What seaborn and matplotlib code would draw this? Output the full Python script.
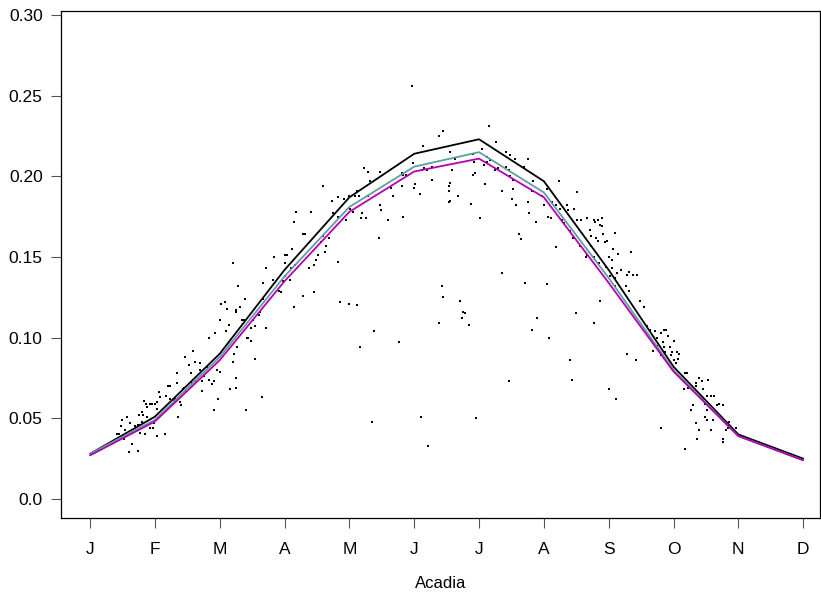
import matplotlib
matplotlib.use("Agg")
import matplotlib.pyplot as plt
import seaborn as sns
import pandas as pd

sns.set_style("white")
plt.rcParams['font.family'] = ['Liberation Sans', 'DejaVu Sans']
plt.rcParams['text.color'] = 'black'
plt.rcParams['axes.labelcolor'] = 'black'
plt.rcParams['xtick.color'] = 'black'
plt.rcParams['ytick.color'] = 'black'

month_labels = ["J", "F", "M", "A", "M", "J", "J", "A", "S", "O", "N", "D"]
month_pos = [1, 2, 3, 4, 5, 6, 7, 8, 9, 10, 11, 12]

line_black = [0.028, 0.051, 0.090, 0.142, 0.187, 0.214, 0.223, 0.197, 0.142, 0.082, 0.040, 0.025]
line_teal = [0.028, 0.049, 0.088, 0.138, 0.181, 0.206, 0.215, 0.190, 0.137, 0.080, 0.039, 0.024]
line_magenta = [0.027, 0.048, 0.086, 0.135, 0.178, 0.203, 0.211, 0.187, 0.134, 0.079, 0.039, 0.024]

# daily observations: position on the month axis and value
obs_x = [
    1.41, 1.45, 1.47, 1.49, 1.46, 1.52, 1.54, 1.50, 1.57, 1.62, 1.62, 1.64, 1.64, 1.60, 1.74, 1.71, 1.73, 1.70, 1.74, 1.77,
    1.77, 1.80, 1.85, 1.85, 1.76, 1.80, 1.82, 1.88, 1.88, 1.83, 1.87, 1.93, 1.95, 2.00, 2.04, 2.03, 1.95, 1.99, 1.93, 1.97,
    2.04, 2.16, 2.06, 2.08, 2.17, 2.21, 2.23, 2.34, 2.34, 2.23, 2.31, 2.29, 2.39, 2.40, 2.36, 2.45, 2.43, 2.47, 2.46, 2.59,
    2.62, 2.53, 2.70, 2.80, 2.69, 2.55, 2.76, 2.83, 2.72, 2.62, 2.57, 2.91, 2.88, 2.96, 3.01, 2.72, 2.97, 2.91, 3.16, 3.25,
    3.25, 3.21, 3.22, 2.83, 2.92, 3.10, 3.26,
    3.21, 3.28, 3.39, 3.02, 3.08, 3.12, 3.25, 3.25, 3.31, 3.00, 3.15, 3.34, 3.38, 3.67, 3.67, 3.72, 3.84, 3.82, 4.01, 4.04,
    4.11, 4.28, 4.31, 4.00, 4.10, 4.16, 4.08, 3.97, 3.92, 3.94, 4.01, 4.37, 4.46, 4.49, 4.52, 4.56, 4.60, 4.64, 4.63, 4.68,
    4.29, 4.46, 4.15, 3.72, 3.62, 3.61, 3.52, 3.55, 3.48, 3.42, 3.44, 3.48, 3.55, 3.65, 3.41,
    4.17, 4.14, 4.41,
    4.59, 5.22, 5.29, 5.48, 5.32, 4.73, 4.82, 4.91, 4.99, 5.09, 5.12, 5.15, 5.29, 5.01, 5.06, 5.19, 5.18, 5.25, 4.95, 4.83,
    4.74, 5.48, 5.49, 5.59, 5.45, 5.64, 5.68, 5.81, 5.83, 5.88, 5.81, 5.83, 5.98, 6.02, 6.00, 6.09, 6.12, 6.15, 6.19, 4.83,
    4.85, 4.99, 5.12, 5.38, 5.16, 5.77, 5.35, 6.11, 6.21,
    5.97, 6.45, 6.38, 6.14, 7.15, 7.26, 6.56, 6.63, 6.91, 7.04, 7.42, 7.48, 7.55, 7.75, 7.13, 7.17, 7.13, 7.08, 6.93, 7.42,
    7.46, 7.29, 7.24, 7.69, 6.58, 6.27, 6.91, 6.94, 7.48, 7.53, 6.27, 6.56, 6.53, 7.10, 7.84, 8.05, 7.52, 7.35, 7.81, 7.97,
    6.53, 6.67, 7.51, 6.56, 6.54, 6.88, 7.57, 7.75, 8.01, 7.01, 7.77, 8.07,
    7.88, 7.61, 7.65, 7.35, 7.71, 8.05, 6.43, 6.44, 6.70, 6.76, 6.78, 6.73, 6.39, 6.85, 7.90, 7.82, 8.08, 7.46, 6.96,
    8.24, 8.51, 8.18, 8.25, 8.35, 8.38, 8.47, 8.12, 8.11, 8.28, 8.31, 8.51, 8.57, 8.67, 8.77, 8.79, 8.83, 8.90, 8.87, 8.90,
    8.71, 9.09, 8.92, 8.41, 8.45, 8.72, 8.81, 8.84, 8.94, 8.97, 8.73, 8.56, 9.07, 9.14, 8.77, 8.66, 8.65, 9.35, 9.01, 9.05,
    8.85, 9.05, 8.96, 9.19, 9.32, 9.13, 9.28, 9.38, 9.43, 9.02, 9.10, 9.26, 9.10, 9.32, 9.49, 9.55, 8.87, 8.19, 8.50, 8.78,
    8.40, 8.44, 9.00, 9.12, 9.29, 9.42, 9.59, 9.63, 9.72, 9.81, 9.85, 9.89, 9.92, 10.00, 9.74, 9.75, 9.84, 9.86, 9.94, 9.98,
    10.05, 9.69, 9.79, 9.80, 9.87, 9.96, 10.00, 10.04, 10.07, 10.09,
    10.18, 10.21, 10.16, 10.22, 10.34, 10.40, 10.44, 10.53, 10.35, 10.46, 10.41, 10.46, 10.52, 10.58, 10.63, 10.48, 10.30, 10.27, 10.67, 10.70,
    10.77, 10.51, 10.48, 10.51, 10.61, 10.34, 10.40, 10.58, 10.81, 10.84, 10.86, 10.97, 10.37, 10.76, 10.77, 10.17, 9.81,
]
obs_y = [
    0.040, 0.040, 0.045, 0.039, 0.038, 0.037, 0.043, 0.049, 0.051, 0.047, 0.040, 0.041, 0.034, 0.029, 0.030, 0.043, 0.043, 0.045, 0.046, 0.046,
    0.041, 0.048, 0.045, 0.040, 0.052, 0.054, 0.052, 0.051, 0.057, 0.061, 0.059, 0.059, 0.059, 0.059, 0.060, 0.056, 0.048, 0.047, 0.044, 0.044,
    0.039, 0.040, 0.066, 0.063, 0.064, 0.070, 0.070, 0.072, 0.078, 0.062, 0.062, 0.061, 0.060, 0.058, 0.051, 0.069, 0.068, 0.067, 0.088, 0.092,
    0.085, 0.083, 0.084, 0.082, 0.080, 0.078, 0.076, 0.074, 0.073, 0.073, 0.072, 0.073, 0.071, 0.080, 0.079, 0.067, 0.062, 0.055, 0.068, 0.069,
    0.075, 0.085, 0.090, 0.100, 0.103, 0.104, 0.094,
    0.146, 0.132, 0.124, 0.121, 0.122, 0.118, 0.117, 0.116, 0.119, 0.111, 0.108, 0.111, 0.111, 0.124, 0.134, 0.143, 0.150, 0.136, 0.151, 0.151,
    0.155, 0.164, 0.164, 0.146, 0.143, 0.145, 0.136, 0.135, 0.129, 0.128, 0.138, 0.143, 0.145, 0.148, 0.151, 0.159, 0.163, 0.157, 0.153, 0.162,
    0.126, 0.128, 0.119, 0.106, 0.116, 0.114, 0.111, 0.107, 0.106, 0.100, 0.100, 0.098, 0.087, 0.063, 0.055,
    0.178, 0.172, 0.178,
    0.194, 0.205, 0.203, 0.203, 0.197, 0.185, 0.187, 0.186, 0.188, 0.188, 0.191, 0.188, 0.188, 0.180, 0.178, 0.177, 0.174, 0.174, 0.173, 0.175,
    0.177, 0.182, 0.179, 0.173, 0.162, 0.193, 0.188, 0.202, 0.201, 0.201, 0.194, 0.175, 0.208, 0.195, 0.193, 0.189, 0.204, 0.205, 0.204, 0.147,
    0.122, 0.121, 0.120, 0.104, 0.094, 0.097, 0.048, 0.051, 0.033,
    0.256, 0.228, 0.225, 0.219, 0.231, 0.221, 0.215, 0.211, 0.214, 0.217, 0.215, 0.213, 0.211, 0.211, 0.212, 0.210, 0.209, 0.207, 0.209, 0.206,
    0.204, 0.205, 0.204, 0.206, 0.204, 0.206, 0.201, 0.202, 0.200, 0.198, 0.198, 0.196, 0.194, 0.195, 0.197, 0.192, 0.192, 0.191, 0.191, 0.188,
    0.191, 0.188, 0.186, 0.185, 0.184, 0.183, 0.182, 0.184, 0.182, 0.174, 0.177, 0.175,
    0.172, 0.164, 0.161, 0.140, 0.134, 0.133, 0.132, 0.125, 0.123, 0.116, 0.115, 0.112, 0.109, 0.108, 0.112, 0.105, 0.100, 0.073, 0.050,
    0.197, 0.190, 0.182, 0.180, 0.182, 0.179, 0.180, 0.184, 0.174, 0.173, 0.171, 0.173, 0.173, 0.174, 0.173, 0.172, 0.173, 0.174, 0.170, 0.169,
    0.167, 0.165, 0.164, 0.166, 0.162, 0.163, 0.162, 0.160, 0.159, 0.160, 0.157, 0.157, 0.155, 0.152, 0.150, 0.151, 0.150, 0.153, 0.150, 0.148,
    0.146, 0.143, 0.144, 0.142, 0.141, 0.140, 0.139, 0.139, 0.139, 0.138, 0.137, 0.132, 0.132, 0.129, 0.123, 0.119, 0.123, 0.156, 0.115, 0.109,
    0.086, 0.074, 0.068, 0.062, 0.090, 0.086, 0.107, 0.105, 0.104, 0.103, 0.105, 0.105, 0.101, 0.098, 0.100, 0.095, 0.097, 0.094, 0.094, 0.091,
    0.091, 0.092, 0.091, 0.089, 0.091, 0.089, 0.086, 0.084, 0.087, 0.090,
    0.078, 0.078, 0.068, 0.069, 0.072, 0.075, 0.073, 0.074, 0.070, 0.068, 0.063, 0.062, 0.064, 0.064, 0.064, 0.059, 0.058, 0.055, 0.058, 0.059,
    0.058, 0.055, 0.051, 0.049, 0.049, 0.047, 0.043, 0.043, 0.043, 0.044, 0.048, 0.044, 0.037, 0.037, 0.035, 0.031, 0.044,
]

obs = pd.DataFrame({"x": obs_x, "y": obs_y})
lines = pd.DataFrame({
    "x": month_pos * 3,
    "y": line_black + line_teal + line_magenta,
    "series": ["black"] * 12 + ["teal"] * 12 + ["magenta"] * 12,
})

fig = plt.figure(figsize=(8.21, 5.96), dpi=100)
ax = fig.add_axes([0.0743, 0.1309, 0.9245, 0.8506])

sns.scatterplot(data=obs, x="x", y="y", ax=ax, color="black", s=4, marker="s",
                linewidth=0, legend=False, zorder=2)
palette = {"black": "black", "teal": "#5F9EA0", "magenta": "#B400B4"}
sns.lineplot(data=lines, x="x", y="y", hue="series", palette=palette, ax=ax,
             linewidth=1.3, legend=False, zorder=3)

ax.set_xlim(0.552, 12.26)
ax.set_ylim(-0.0118, 0.3025)
ax.set_xticks(month_pos)
ax.set_xticklabels(month_labels)
ax.set_yticks([0.0, 0.05, 0.10, 0.15, 0.20, 0.25, 0.30])
ax.set_yticklabels(["0.0", "0.05", "0.10", "0.15", "0.20", "0.25", "0.30"])
ax.set_xlabel("Acadia", fontsize=12, labelpad=14, color="black")
ax.set_ylabel("")

ax.tick_params(axis="both", direction="out", length=7.2, width=0.8, color="#555555",
               labelsize=12.5, labelcolor="black", left=True, bottom=True)
ax.tick_params(axis="x", pad=10)
ax.tick_params(axis="y", pad=6)
for sp in ax.spines.values():
    sp.set_visible(True)
    sp.set_color("black")
    sp.set_linewidth(0.9)

fig.savefig("out.png", dpi=100)
